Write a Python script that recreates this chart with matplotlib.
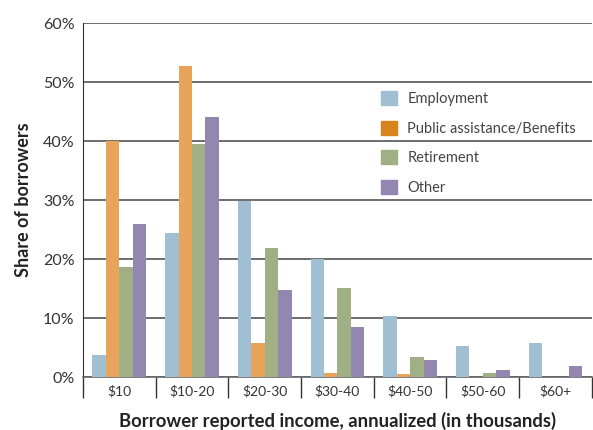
import numpy as np
import matplotlib.pyplot as plt
from matplotlib.patches import Patch

plt.rcParams['font.family'] = ['Lato', 'DejaVu Sans']

categories = ['$10', '$10-20', '$20-30', '$30-40', '$40-50', '$50-60', '$60+']
series = ['Employment', 'Public assistance/Benefits', 'Retirement', 'Other']
employment = [3.7, 24.4, 29.8, 20.0, 10.3, 5.3, 5.8]
public_assist = [40.0, 52.7, 5.8, 0.7, 0.5, 0.0, 0.0]
retirement = [18.7, 39.6, 21.9, 15.1, 3.4, 0.7, 0.0]
other = [25.9, 44.1, 14.7, 8.5, 2.9, 1.2, 1.9]

values = [employment, public_assist, retirement, other]
colors = ['#a1bfd3', '#e7a45a', '#a1af84', '#9386b0']
legend_colors = ['#a1bfd3', '#d9831f', '#a1af84', '#9386b0']

fig = plt.figure(figsize=(5.93, 4.30), dpi=100)
ax = fig.add_axes([0.14, 0.123, 0.858, 0.823])

x = np.arange(len(categories))
w = 0.185
for i, vals in enumerate(values):
    ax.bar(x + (i - 1.5) * w, vals, width=w, color=colors[i], zorder=3)

ax.set_xlim(-0.5, len(categories) - 0.5)
ax.set_ylim(0, 60)
ax.set_yticks(range(0, 61, 10))
ax.set_yticklabels([f'{v}%' for v in range(0, 61, 10)], fontsize=11.5, color='#333333')
ax.yaxis.grid(True, color='#555555', linewidth=1.2, zorder=0)
ax.tick_params(axis='y', length=0, pad=6)

# category labels centred, separator ticks at the boundaries
ax.set_xticks(x)
ax.set_xticklabels(categories, fontsize=10, color='#333333')
ax.tick_params(axis='x', length=0, pad=6)
ax.set_xticks(np.arange(-0.5, len(categories), 1), minor=True)
ax.tick_params(axis='x', which='minor', length=15, width=1, color='#333333')

for s in ['top', 'right']:
    ax.spines[s].set_visible(False)
ax.spines['left'].set_color('#333333')
ax.spines['bottom'].set_color('#666666')
ax.spines['bottom'].set_linewidth(1.2)

ax.set_ylabel('Share of borrowers', fontsize=13, fontweight='bold', color='#222222', labelpad=8)
ax.set_xlabel('Borrower reported income, annualized (in thousands)', fontsize=13.3,
              fontweight='bold', color='#222222', labelpad=7)

handles = [Patch(color=c, label=s) for c, s in zip(legend_colors, series)]
ax.legend(handles=handles, loc='upper left', bbox_to_anchor=(0.56, 0.845), frameon=False,
          fontsize=10.5, handlelength=1.1, handleheight=1.1, labelspacing=1.0,
          handletextpad=0.7, labelcolor='#444444')

fig.savefig('out.png', dpi=100)
